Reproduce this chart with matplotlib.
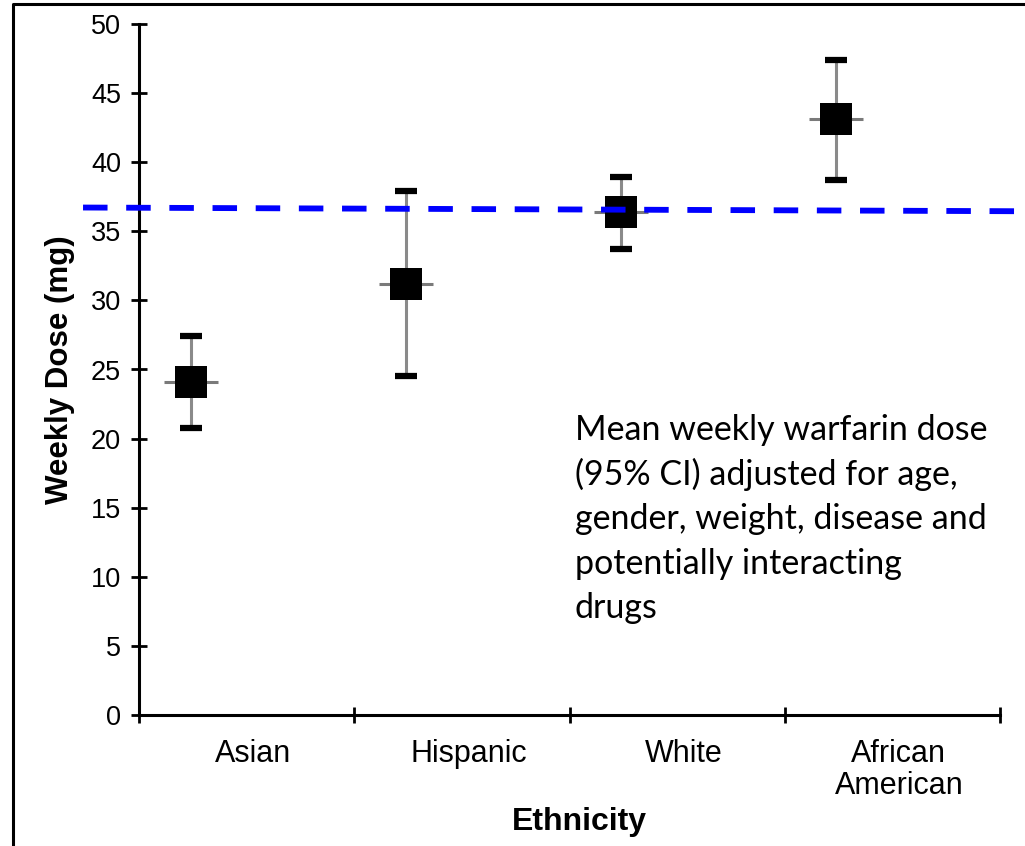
import matplotlib

matplotlib.use("Agg")

import matplotlib.pyplot as plt
from matplotlib.lines import Line2D
from matplotlib.ticker import FixedLocator, NullFormatter

# ---- data -------------------------------------------------------------
groups = ["Asian", "Hispanic", "White", "African\nAmerican"]
mean_dose = [24.1, 31.2, 36.4, 43.1]
ci_low = [20.8, 24.5, 33.7, 38.7]
ci_high = [27.4, 37.9, 38.9, 47.4]

# overall-mean reference line (slightly tilted in the source)
ref_x = [-0.26, 4.12]
ref_y = [36.72, 36.45]

note_lines = [
    "Mean weekly warfarin dose",
    "(95% CI) adjusted for age,",
    "gender, weight, disease and",
    "potentially interacting",
    "drugs",
]

W, H = 1025, 846
MARKER_SHIFT = -0.26  # markers sit left of the category centre
LABEL_SHIFT = 0.03

plt.rcParams["font.family"] = ["Liberation Sans", "DejaVu Sans"]

fig = plt.figure(figsize=(W / 100, H / 100), dpi=100, facecolor="white")
ax = fig.add_axes([139 / W, 1 - 715 / H, (1000 - 139) / W, (715 - 24) / H])

centers = [i + 0.5 for i in range(len(groups))]
xs = [c + MARKER_SHIFT for c in centers]

# error bars: grey stem, black caps, grey cross tick, black square
for x, m, lo, hi in zip(xs, mean_dose, ci_low, ci_high):
    ax.plot([x, x], [lo, hi], color="#8a8a8a", lw=2.2, zorder=2,
            solid_capstyle="butt")
ax.plot(xs, ci_low, ls="none", marker="_", ms=16, mew=4.5,
        color="black", zorder=3)
ax.plot(xs, ci_high, ls="none", marker="_", ms=16, mew=4.5,
        color="black", zorder=3)
ax.plot(xs, mean_dose, ls="none", marker="_", ms=39, mew=2.2,
        color="#7a7a7a", zorder=3)
ax.plot(xs, mean_dose, ls="none", marker="s", ms=22.5, mew=0,
        color="black", zorder=4)

# dashed blue reference line
ax.plot(ref_x, ref_y, color="#0000FF", lw=4.2, ls=(0, (4.2, 3.2)),
        clip_on=False, zorder=5)

ax.set_xlim(0, len(groups))
ax.set_ylim(0, 50)

for s in ("top", "right"):
    ax.spines[s].set_visible(False)
for s in ("left", "bottom"):
    ax.spines[s].set_linewidth(2.2)

ax.set_yticks(range(0, 51, 5))
ax.tick_params(axis="y", direction="inout", length=12, width=2,
               labelsize=19.5, pad=7)
ax.xaxis.set_major_locator(FixedLocator(range(0, len(groups) + 1)))
ax.xaxis.set_major_formatter(NullFormatter())
ax.xaxis.set_minor_locator(FixedLocator([c + LABEL_SHIFT for c in centers]))
ax.set_xticklabels(groups, minor=True)
ax.tick_params(axis="x", which="minor", length=0, labelsize=22, pad=17)
ax.tick_params(axis="x", which="major", direction="inout", length=11,
               width=2)
for lab in ax.get_xticklabels(minor=True):
    lab.set_linespacing(1.1)

ax.set_ylabel("Weekly Dose (mg)", fontsize=22.5, fontweight="bold",
              va="center")
ax.yaxis.set_label_coords((60 - 139) / (1000 - 139), 0.5)
ax.set_xlabel("Ethnicity", fontsize=23, fontweight="bold", va="center")
ax.xaxis.set_label_coords((579 - 139) / (1000 - 139), -(822 - 715) / (715 - 24))

# annotation text block
for i, line in enumerate(note_lines):
    fig.text(575 / W, 1 - (440 + i * 44.5) / H, line, fontsize=24.5,
             family=["Lato", "DejaVu Sans"], va="baseline", ha="left",
             color="black")

# outer frame (left and top edges visible in the source)
fig.add_artist(Line2D([13 / W, 13 / W, 1.0], [0.0, 1 - 4 / H, 1 - 4 / H],
                      transform=fig.transFigure, color="black", lw=2.2))

fig.savefig("out.png", dpi=100)
